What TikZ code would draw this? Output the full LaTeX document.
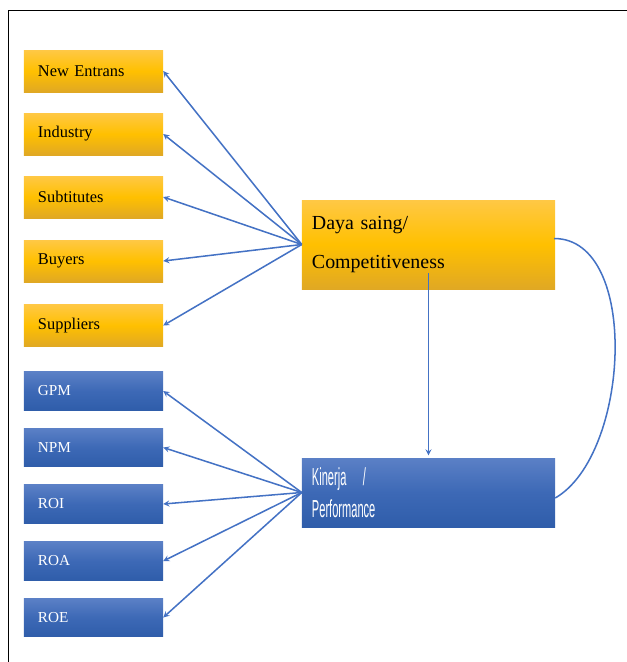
\documentclass[tikz,border=0pt]{standalone}
\usepackage{fontspec}
\setmainfont{Liberation Serif}
\newfontfamily\narrowfont[FakeStretch=0.45]{Liberation Sans}
\usepackage{tikz}
\usetikzlibrary{arrows}

\definecolor{orangetop}{HTML}{FFC845}
\definecolor{orangemid}{HTML}{FFC000}
\definecolor{orangebot}{HTML}{E0A824}
\definecolor{bluetop}{HTML}{5B80C6}
\definecolor{bluemid}{HTML}{3D69B6}
\definecolor{bluebot}{HTML}{2F5DAA}
\definecolor{linkblue}{HTML}{4472C4}

\begin{document}
\begin{tikzpicture}[x=0.03cm, y=-0.03cm]

   %Styles of boxes and arrows
   \tikzstyle{orangebox} = [rectangle, minimum width=4.17cm, minimum height=1.26cm, text width=3.33cm, inner xsep=0.42cm, align=left, top color=orangetop, bottom color=orangebot, middle color=orangemid, font=\fontsize{14}{16}\selectfont]
   \tikzstyle{bluebox} = [rectangle, minimum width=4.17cm, minimum height=1.155cm, text width=3.33cm, inner xsep=0.42cm, align=left, top color=bluetop, bottom color=bluebot, middle color=bluemid, text=white, font=\fontsize{13}{15}\selectfont]
   \tikzstyle{bigorange} = [rectangle, minimum width=7.59cm, minimum height=2.67cm, text width=6.99cm, inner xsep=0.3cm, align=left, top color=orangetop, bottom color=orangebot, middle color=orangemid, font=\fontsize{17}{34}\selectfont]
   \tikzstyle{bigblue} = [rectangle, minimum width=7.59cm, minimum height=2.07cm, text width=6.99cm, inner xsep=0.3cm, align=left, top color=bluetop, bottom color=bluebot, middle color=bluemid, text=white, font=\narrowfont\fontsize{21}{27}\selectfont]
   \tikzstyle{arrow} = [line width=1.3pt, draw=linkblue, ->, >=stealth]

   \useasboundingbox (0,0) rectangle (627,662);

   %Frame
   \draw[line width=0.8pt] (8,662) -- (8,10) -- (627,10);

   %Boxes
   \node[orangebox] (entrans) at (93.5,71) {New Entrans};
   \node[orangebox] (industry) at (93.5,134) {Industry};
   \node[orangebox] (subtitutes) at (93.5,197) {Subtitutes};
   \node[orangebox] (buyers) at (93.5,261) {Buyers};
   \node[orangebox] (suppliers) at (93.5,325.5) {Suppliers};

   \node[bluebox] (gpm) at (93.5,391) {GPM};
   \node[bluebox] (npm) at (93.5,447.5) {NPM};
   \node[bluebox] (roi) at (93.5,504) {ROI};
   \node[bluebox] (roa) at (93.5,561) {ROA};
   \node[bluebox] (roe) at (93.5,617.5) {ROE};

   \node[bigorange] (daya) at (428.5,244.5) {Daya saing/\\Competitiveness};
   \node[bigblue] (kinerja) at (428.5,492.5) {Kinerja ~/\\Performance};

   %Arrows
   \draw[arrow] (daya.west) -- (entrans.east);
   \draw[arrow] (daya.west) -- (industry.east);
   \draw[arrow] (daya.west) -- (subtitutes.east);
   \draw[arrow] (daya.west) -- (buyers.east);
   \draw[arrow] (daya.west) -- (suppliers.east);

   \draw[arrow] (kinerja.west) -- (gpm.east);
   \draw[arrow] (kinerja.west) -- (npm.east);
   \draw[arrow] (kinerja.west) -- (roi.east);
   \draw[arrow] (kinerja.west) -- (roa.east);
   \draw[arrow] (kinerja.west) -- (roe.east);

   \draw[arrow, shorten >=2pt] ([yshift=0.48cm]daya.south) -- (kinerja.north);
   \draw[line width=1.3pt, draw=linkblue] ([yshift=0.18cm, xshift=-1pt]daya.east) to[out=0, in=30, looseness=0.85] ([yshift=-0.165cm]kinerja.east);

\end{tikzpicture}
\end{document}
